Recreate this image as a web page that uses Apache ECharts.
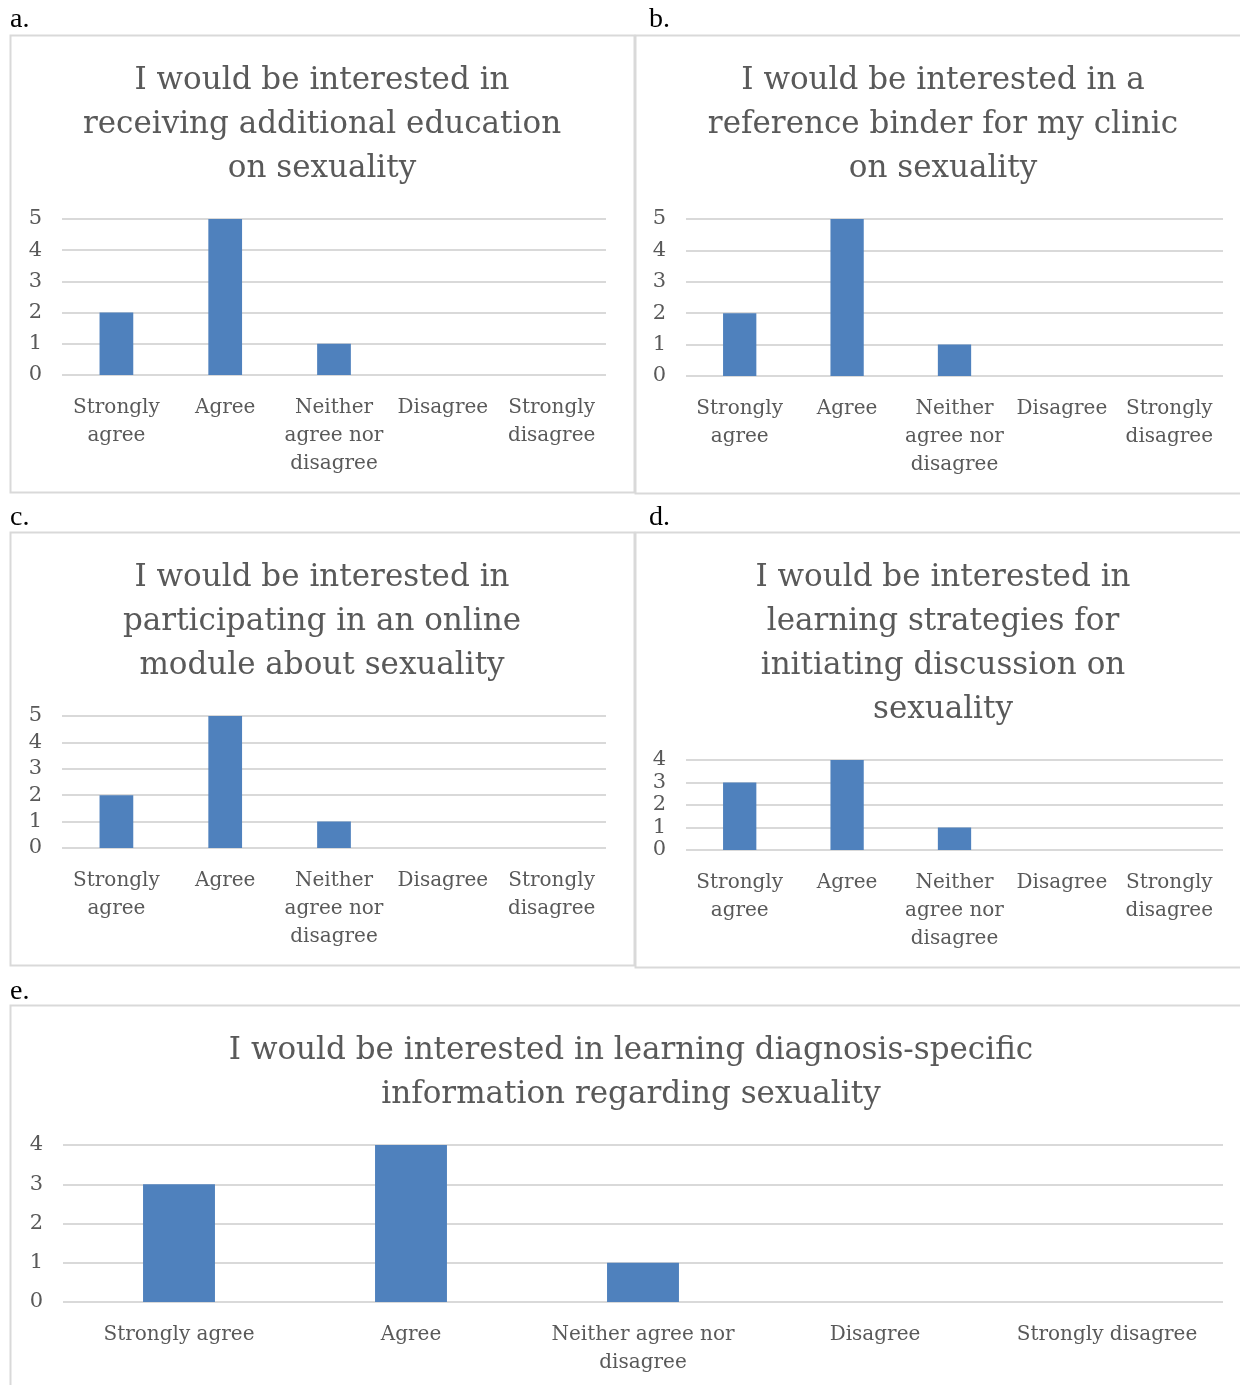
<!DOCTYPE html>
<html><head><meta charset="utf-8">
<script src="https://cdn.jsdelivr.net/npm/echarts@6/dist/echarts.min.js"></script>
<style>html,body{margin:0;padding:0;background:#fff}#c{width:1240px;height:1385px}</style>
</head><body><div id="c"></div>
<script>
// Data
const narrowLabels = ['Strongly\nagree', 'Agree', 'Neither\nagree nor\ndisagree', 'Disagree', 'Strongly\ndisagree'];
const wideLabels = ['Strongly agree', 'Agree', 'Neither agree nor\ndisagree', 'Disagree', 'Strongly disagree'];
const valuesA = [2, 5, 1, 0, 0];
const valuesB = [2, 5, 1, 0, 0];
const valuesC = [2, 5, 1, 0, 0];
const valuesD = [3, 4, 1, 0, 0];
const valuesE = [3, 4, 1, 0, 0];
const titleA = 'I would be interested in\nreceiving additional education\non sexuality';
const titleB = 'I would be interested in a\nreference binder for my clinic\non sexuality';
const titleC = 'I would be interested in\nparticipating in an online\nmodule about sexuality';
const titleD = 'I would be interested in\nlearning strategies for\ninitiating discussion on\nsexuality';
const titleE = 'I would be interested in learning diagnosis-specific\ninformation regarding sexuality';
const panelLetters = ['a.', 'b.', 'c.', 'd.', 'e.'];
const yMax = [5, 5, 5, 4, 4];

const FONT = '"DejaVu Serif", serif';
const TXT = '#595959';
const GRID = '#d9d9d9';
const BAR = '#4F81BD';

const panels = [
  {title: titleA, values: valuesA, labels: narrowLabels, tx: 322, ty: 59, grid: {left: 62, top: 219, width: 544, height: 156}, box: [10, 35, 624, 457], lx: 10, ly: 18},
  {title: titleB, values: valuesB, labels: narrowLabels, tx: 943, ty: 59, grid: {left: 686, top: 219, width: 537, height: 157}, box: [635, 35, 610, 458], lx: 649, ly: 18},
  {title: titleC, values: valuesC, labels: narrowLabels, tx: 322, ty: 556, grid: {left: 62, top: 716, width: 544, height: 132}, box: [10, 532, 624, 433], lx: 10, ly: 516},
  {title: titleD, values: valuesD, labels: narrowLabels, tx: 943, ty: 556, grid: {left: 686, top: 760, width: 537, height: 90}, box: [635, 532, 610, 435], lx: 649, ly: 516},
  {title: titleE, values: valuesE, labels: wideLabels, tx: 631, ty: 1029, grid: {left: 63, top: 1145, width: 1160, height: 157}, box: [10, 1005, 1235, 390], lx: 10, ly: 990}
];

const option = {
  animation: false,
  backgroundColor: '#fff',
  title: panels.map(p => ({
    text: p.title, left: p.tx, top: p.ty, textAlign: 'center', padding: 0,
    textStyle: {fontFamily: FONT, fontSize: 31, fontWeight: 'normal', color: TXT, lineHeight: 44}
  })),
  grid: panels.map(p => Object.assign({containLabel: false}, p.grid)),
  xAxis: panels.map((p, i) => ({
    type: 'category', gridIndex: i, data: p.labels,
    axisLine: {show: false}, axisTick: {show: false},
    axisLabel: {fontFamily: FONT, fontSize: 20, color: TXT, lineHeight: 28, margin: 19, interval: 0}
  })),
  yAxis: panels.map((p, i) => ({
    type: 'value', gridIndex: i, min: 0, max: yMax[i], interval: 1,
    axisLine: {show: false}, axisTick: {show: false},
    axisLabel: {fontFamily: FONT, fontSize: 21, color: TXT, margin: 20,
      showMinLabel: true, showMaxLabel: true, hideOverlap: false},
    splitLine: {lineStyle: {color: GRID, width: 2}}
  })),
  series: panels.map((p, i) => ({
    type: 'bar', xAxisIndex: i, yAxisIndex: i, data: p.values,
    barWidth: '31%', itemStyle: {color: BAR}
  })),
  graphic: [
    ...panels.map(p => ({
      type: 'rect', silent: true, z: -1,
      shape: {x: p.box[0] + 0.5, y: p.box[1] + 0.5, width: p.box[2], height: p.box[3]},
      style: {fill: 'none', stroke: GRID, lineWidth: 2}
    })),
    ...panels.map((p, i) => ({
      type: 'text', left: p.lx, top: p.ly - 12,
      style: {text: panelLetters[i], fontFamily: '"Liberation Serif", serif', fontSize: 28, fill: '#000'}
    }))
  ]
};
const chart = echarts.init(document.getElementById('c'), null, {renderer: 'canvas'});
chart.setOption(option);
</script></body></html>
